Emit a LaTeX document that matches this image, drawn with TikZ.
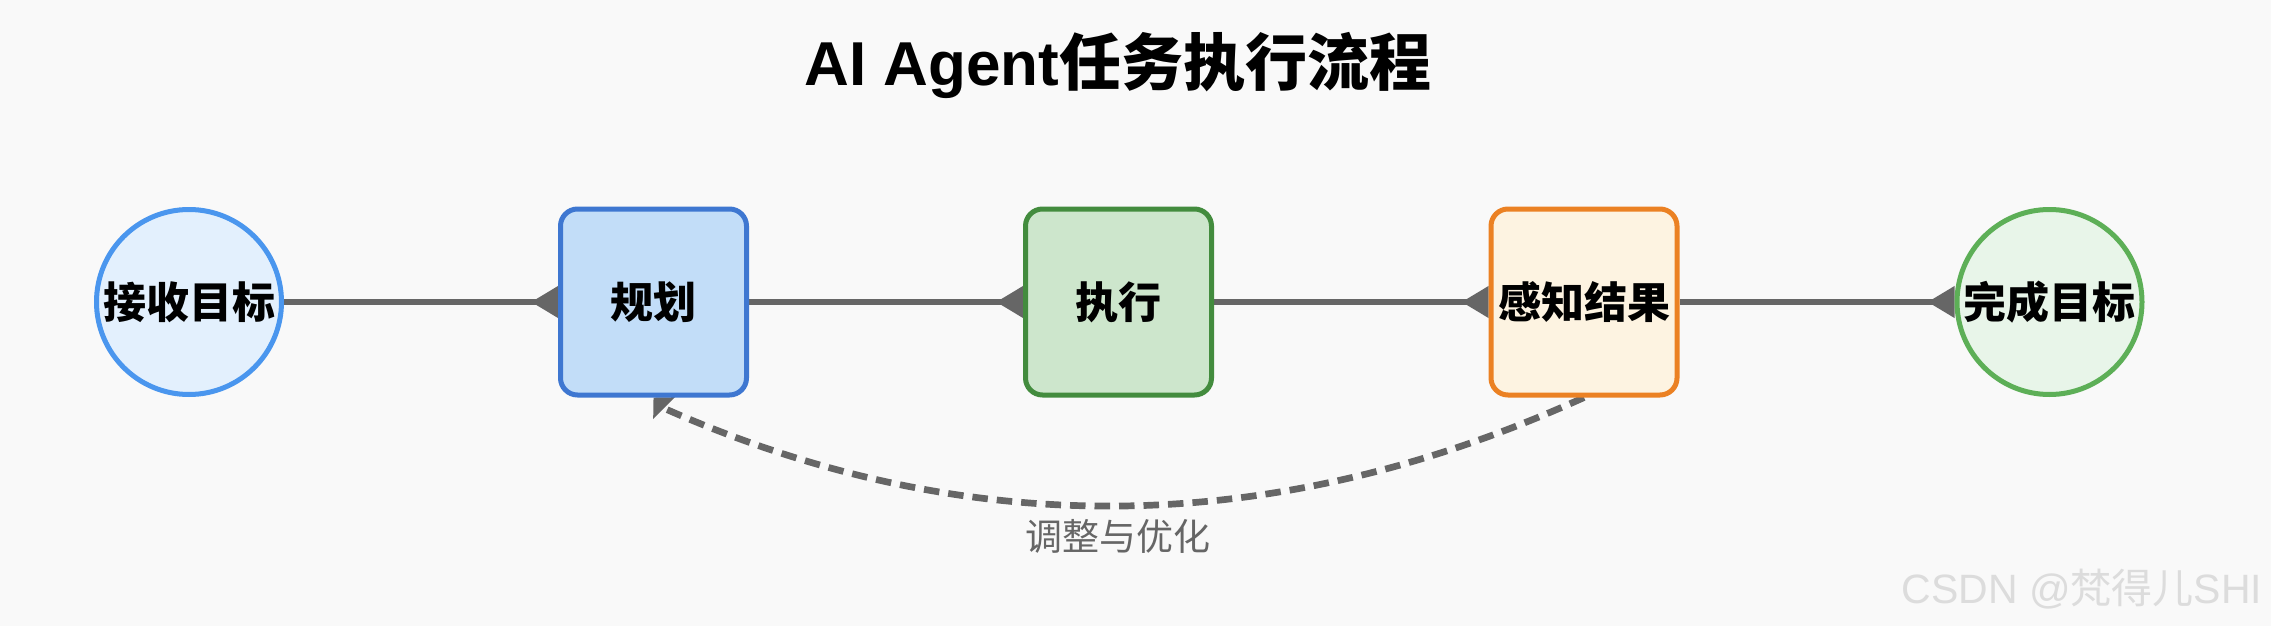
\documentclass[tikz,border=0pt]{standalone}
\usepackage{fontspec}
\setmainfont{Liberation Sans}
\newfontfamily\cjk{Noto Sans CJK SC}
\usetikzlibrary{arrows.meta,calc}
\pgfdeclarelayer{bg}
\pgfsetlayers{bg,main}
\definecolor{bgc}{HTML}{F9F9F9}
\definecolor{conn}{HTML}{666666}
\definecolor{c1s}{RGB}{74,150,238}
\definecolor{c1f}{RGB}{227,240,253}
\definecolor{b1s}{RGB}{62,119,209}
\definecolor{b1f}{RGB}{194,221,248}
\definecolor{b2s}{RGB}{67,140,62}
\definecolor{b2f}{RGB}{205,230,204}
\definecolor{b3s}{RGB}{235,129,35}
\definecolor{b3f}{RGB}{253,243,225}
\definecolor{c2s}{RGB}{93,175,87}
\definecolor{c2f}{RGB}{232,245,233}
\definecolor{wm}{RGB}{220,220,220}
\begin{document}
\begin{tikzpicture}[x=1pt,y=-1pt,
  roundnode/.style={circle, minimum size=185pt, inner sep=0pt, line width=5pt,
    font=\fontsize{43}{43}\selectfont\cjk\bfseries},
  boxnode/.style={rectangle, rounded corners=17pt, minimum size=186pt, inner sep=0pt,
    line width=5pt, font=\fontsize{43}{43}\selectfont\cjk\bfseries},
  flow/.style={draw=conn, line width=6.7pt, -{Triangle[reversed,length=27pt,width=30pt]}},
  loopback/.style={draw=conn, line width=6.7pt, dash pattern=on 15.5pt off 9pt,
    -{Triangle[length=15pt,width=30pt]}}
]
\useasboundingbox (0,0) rectangle (2271,626);

\node[anchor=base, font=\fontsize{62}{62}\selectfont\bfseries] (title) at (1118,85)
  {AI Agent{\cjk 任务执行流程}};

\node[roundnode, draw=c1s, fill=c1f] (jie) at (189,302) {接收目标};
\node[boxnode, draw=b1s, fill=b1f] (gh) at (653.5,302) {规划};
\node[boxnode, draw=b2s, fill=b2f] (zx) at (1118.5,302) {执行};
\node[boxnode, draw=b3s, fill=b3f] (gz) at (1584,302) {感知结果};
\node[roundnode, draw=c2s, fill=c2f] (wc) at (2049.5,302) {完成目标};

\node[font=\fontsize{37}{37}\selectfont\cjk, text=conn] (lbl) at (1118,536) {调整与优化};

\node[anchor=base west, text=wm, font=\fontsize{41}{41}\selectfont] (wmk) at (1898,603)
  {CSDN @{\cjk 梵得儿}SHI};

\coordinate (ctl) at (1118,609);
\coordinate (tipbase) at ($(gh.south)+(11,11)$);

\begin{pgfonlayer}{bg}
\fill[bgc] (0,0) rectangle (2271,626);
\draw[flow] (jie) -- (gh);
\draw[flow] (gh) -- (zx);
\draw[flow] (zx) -- (gz);
\draw[flow] (gz) -- (wc);
\draw[loopback] (gz.south) .. controls ($(gz.south)!0.6667!(ctl)$) and ($(tipbase)!0.6667!(ctl)$) .. (tipbase) -- (gh.south);
\end{pgfonlayer}
\end{tikzpicture}
\end{document}
